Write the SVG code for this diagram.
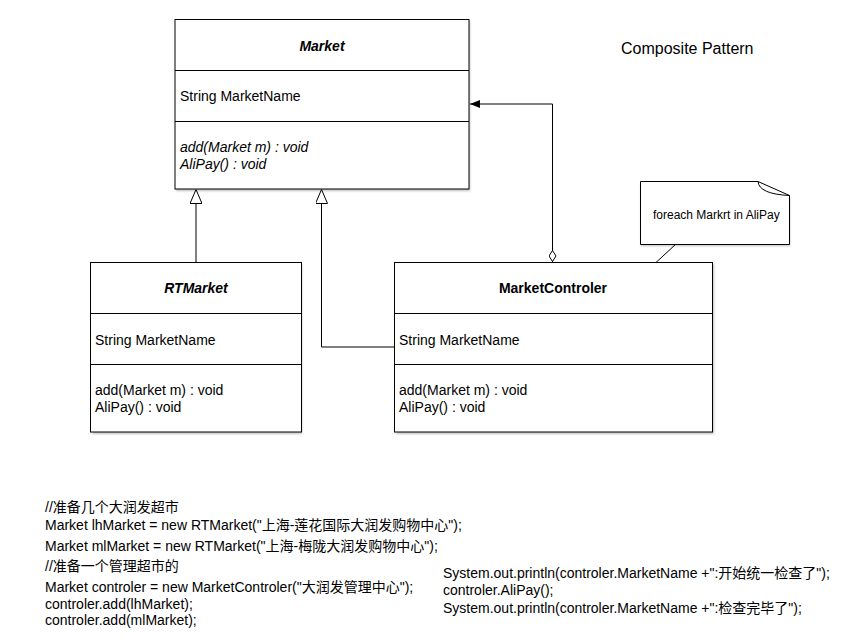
<svg xmlns="http://www.w3.org/2000/svg" width="849" height="644" viewBox="0 0 849 644">
<style>
text{font-family:"Liberation Sans","Noto Sans CJK SC",Arial,sans-serif;font-size:14px;fill:#000}
.box{fill:#fff;stroke:#000;stroke-width:1}
.div{stroke:#000;stroke-width:1;fill:none}
.title{font-weight:bold;text-anchor:middle}
.it{font-style:italic}
.con{fill:none;stroke:#000;stroke-width:1}
.shadow{fill:#000;opacity:0.25;filter:url(#blur)}
</style>
<defs>
<filter id="blur" x="-10%" y="-10%" width="120%" height="120%"><feGaussianBlur stdDeviation="1"/></filter>
<marker id="tri" viewBox="0 0 14 12" refX="14" refY="6" markerWidth="14" markerHeight="12" markerUnits="userSpaceOnUse" orient="auto">
<path d="M0,0 L14,6 L0,12 Z" fill="#fff" stroke="#000" stroke-width="1"/>
</marker>
<marker id="arrow" viewBox="0 0 10 8" refX="10" refY="4" markerWidth="10" markerHeight="8" markerUnits="userSpaceOnUse" orient="auto">
<path d="M0,0 L10,4 L0,8 Z" fill="#000"/>
</marker>
<marker id="diamond" viewBox="0 0 12 8" refX="0" refY="4" markerWidth="12" markerHeight="8" markerUnits="userSpaceOnUse" orient="auto">
<path d="M0.5,4 L6,0.5 L11.5,4 L6,7.5 Z" fill="#fff" stroke="#000" stroke-width="1"/>
</marker>
</defs>
<rect width="849" height="644" fill="#fff"/>

<text x="621" y="54" style="font-size:16px">Composite Pattern</text>

<g id="connectors">
<path class="con" d="M196,262.5 V189.5" marker-end="url(#tri)"/>
<path class="con" d="M394.5,347 H321.5 V189.5" marker-end="url(#tri)"/>
<path class="con" d="M552.5,262 V104 H470" marker-start="url(#diamond)" marker-end="url(#arrow)"/>
<path class="con" d="M676,244 L656,262.5"/>
</g>

<g id="Market">
<rect class="shadow" x="176" y="21" width="294" height="170"/>
<rect class="box" x="175" y="19.5" width="294" height="169.5"/>
<line class="div" x1="175" y1="70.5" x2="469" y2="70.5"/>
<line class="div" x1="175" y1="121.5" x2="469" y2="121.5"/>
<text class="title it" x="322" y="51">Market</text>
<text x="180" y="101">String MarketName</text>
<text class="it" x="180" y="152">add(Market m) : void</text>
<text class="it" x="180" y="169">AliPay() : void</text>
</g>

<g id="RTMarket">
<rect class="shadow" x="92" y="264" width="210" height="170"/>
<rect class="box" x="90.5" y="262.5" width="211" height="169.5"/>
<line class="div" x1="90.5" y1="313.5" x2="301.5" y2="313.5"/>
<line class="div" x1="90.5" y1="364.5" x2="301.5" y2="364.5"/>
<text class="title it" x="196" y="293">RTMarket</text>
<text x="95" y="345">String MarketName</text>
<text x="95" y="395">add(Market m) : void</text>
<text x="95" y="412">AliPay() : void</text>
</g>

<g id="MarketControler">
<rect class="shadow" x="396" y="264" width="318" height="170"/>
<rect class="box" x="394.5" y="262.5" width="318" height="169.5"/>
<line class="div" x1="394.5" y1="313.5" x2="712.5" y2="313.5"/>
<line class="div" x1="394.5" y1="364.5" x2="712.5" y2="364.5"/>
<text class="title" x="553" y="293">MarketControler</text>
<text x="399" y="345">String MarketName</text>
<text x="399" y="395">add(Market m) : void</text>
<text x="399" y="412">AliPay() : void</text>
</g>

<g id="note">
<path class="shadow" d="M641,183 H759 L790,197 V246 H641 Z"/>
<path d="M640.5,181.5 H758 L789.5,195.5 V244.5 H640.5 Z" fill="#fff" stroke="#000" stroke-width="1"/>
<path d="M758,181.5 Q759,194 789.5,195.5" fill="none" stroke="#000" stroke-width="1"/>
<text x="653" y="219" style="font-size:12px">foreach Markrt in AliPay</text>
</g>

<g id="code">
<text x="45" y="512">//准备几个大润发超市</text>
<text x="45" y="530">Market lhMarket = new RTMarket("上海-莲花国际大润发购物中心");</text>
<text x="45" y="551">Market mlMarket = new RTMarket("上海-梅陇大润发购物中心");</text>
<text x="45" y="571">//准备一个管理超市的</text>
<text x="45" y="592">Market controler = new MarketControler("大润发管理中心");</text>
<text x="45" y="609">controler.add(lhMarket);</text>
<text x="45" y="625">controler.add(mlMarket);</text>
<text x="443" y="578">System.out.println(controler.MarketName +":开始统一检查了");</text>
<text x="443" y="595">controler.AliPay();</text>
<text x="443" y="613">System.out.println(controler.MarketName +":检查完毕了");</text>
</g>
</svg>
